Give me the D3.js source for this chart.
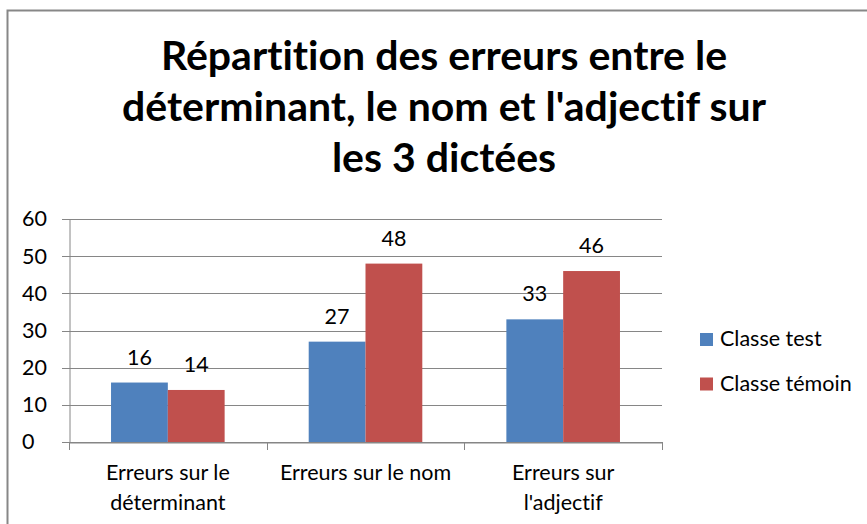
<!DOCTYPE html>
<html>
<head>
<meta charset="utf-8">
<script src="https://cdn.jsdelivr.net/npm/d3@7"></script>
<style>
  body { margin: 0; background: #fff; }
  svg { display: block; }
  text { font-family: Lato, "Open Sans", sans-serif; fill: #000; font-variant-ligatures: none; }
</style>
</head>
<body>
<svg id="chart" width="867" height="524"></svg>
<script>
const categories = [["Erreurs sur le", "déterminant"], ["Erreurs sur le nom"], ["Erreurs sur", "l'adjectif"]];
const seriesNames = ["Classe test", "Classe témoin"];
const classeTest = [16, 27, 33];
const classeTemoin = [14, 48, 46];
const yTicks = [0, 10, 20, 30, 40, 50, 60];
const titleLines = ["Répartition des erreurs entre le", "déterminant, le nom et l'adjectif sur", "les 3 dictées"];
const colors = ["#4F81BD", "#C0504D"];

const svg = d3.select("#chart");
const W = 867, H = 524;
const FS = 21.5;
svg.append("rect").attr("x", 0).attr("y", 0).attr("width", W).attr("height", H).attr("fill", "#fff");
svg.append("rect").attr("x", 7.5).attr("y", 10.5).attr("width", 1000).attr("height", 1000)
  .attr("fill", "none").attr("stroke", "#878787").attr("stroke-width", 2);

const pLeft = 69, pRight = 662, pTop = 219, pBottom = 442;
const catKeys = categories.map((c, i) => i);
const x = d3.scaleBand().domain(catKeys).range([pLeft, pRight]).padding(0);
const xs = d3.scaleBand().domain(seriesNames).range([0, x.bandwidth()]).paddingInner(0).paddingOuter(0.74);
const y = d3.scaleLinear().domain([0, 60]).range([pBottom, pTop]);

// title
const title = svg.append("text").attr("text-anchor", "middle").attr("font-weight", "bold").attr("font-size", 41);
titleLines.forEach((l, i) => {
  title.append("tspan").attr("x", 444).attr("y", 70 + i * 51).text(l);
});

// gridlines
svg.append("g").selectAll("line").data(yTicks).join("line")
  .attr("x1", pLeft - 7).attr("x2", pRight).attr("y1", d => Math.round(y(d)) + 0.5).attr("y2", d => Math.round(y(d)) + 0.5)
  .attr("stroke", "#868686").attr("stroke-width", 1);

// y axis (labels left-aligned as in the reference)
const yAxis = d3.axisLeft(y).tickValues(yTicks).tickSize(0).tickPadding(22);
const gy = svg.append("g").attr("transform", `translate(${pLeft + 0.5},0)`).call(yAxis);
gy.select(".domain").attr("stroke", "#868686");
gy.selectAll("text").attr("font-size", FS).attr("fill", "#000").style("font-family", "Lato, sans-serif")
  .attr("text-anchor", "start").attr("x", 22 - (pLeft + 0.5));

// bars
const data = [classeTest, classeTemoin];
data.forEach((vals, si) => {
  const g = svg.append("g");
  g.selectAll("rect").data(vals).join("rect")
    .attr("x", (d, i) => x(i) + xs(seriesNames[si]))
    .attr("y", d => y(d))
    .attr("width", xs.bandwidth())
    .attr("height", d => y(0) - y(d))
    .attr("fill", colors[si]);
  g.selectAll("text").data(vals).join("text")
    .attr("x", (d, i) => x(i) + xs(seriesNames[si]) + xs.bandwidth() / 2)
    .attr("y", d => y(d) - 18)
    .attr("text-anchor", "middle").attr("font-size", FS)
    .text(d => d);
});

// x axis
const xAxis = d3.axisBottom(x).tickSize(0).tickFormat("");
const gx = svg.append("g").attr("transform", `translate(0,${pBottom + 0.5})`).call(xAxis);
gx.select(".domain").attr("stroke", "#868686");
const bounds = [pLeft, ...catKeys.map(i => x(i) + x.bandwidth())];
svg.append("g").selectAll("line").data(bounds).join("line")
  .attr("x1", d => Math.round(d) + 0.5).attr("x2", d => Math.round(d) + 0.5)
  .attr("y1", pBottom).attr("y2", pBottom + 8).attr("stroke", "#868686");

categories.forEach((lines, i) => {
  const t = svg.append("text").attr("text-anchor", "middle").attr("font-size", FS);
  lines.forEach((l, j) => {
    t.append("tspan").attr("x", x(i) + x.bandwidth() / 2).attr("y", 480 + j * 30).text(l);
  });
});

// legend
const lg = svg.append("g");
seriesNames.forEach((s, i) => {
  lg.append("rect").attr("x", 700).attr("y", 333 + i * 44.5).attr("width", 13).attr("height", 13).attr("fill", colors[i]);
  lg.append("text").attr("x", 720).attr("y", 346 + i * 44.5).attr("font-size", FS).text(s);
});
</script>
</body>
</html>
